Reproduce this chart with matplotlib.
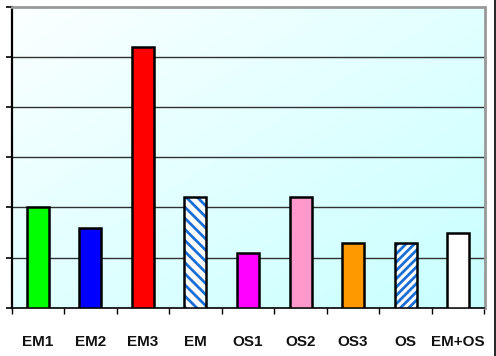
import matplotlib
matplotlib.use("Agg")
import matplotlib.pyplot as plt
import numpy as np
from matplotlib.colors import LinearSegmentedColormap
from matplotlib.lines import Line2D

categories = ["EM1", "EM2", "EM3", "EM", "OS1", "OS2", "OS3", "OS", "EM+OS"]
values = [2.0, 1.6, 5.2, 2.2, 1.1, 2.2, 1.3, 1.3, 1.5]
fill_colors = ["#00ff00", "#0000ff", "#ff0000", "#ffffff", "#ff00ff",
               "#ff99cc", "#ff9900", "#ffffff", "#ffffff"]
hatches = [None, None, None, "\\\\\\", None, None, None, "////", None]

plt.rcParams["hatch.linewidth"] = 2.0
hatch_blue = "#1a6fd6"

fig = plt.figure(figsize=(4.96, 3.56), dpi=100)
fig.patch.set_facecolor("white")
ax = fig.add_axes([11.5 / 496, 1 - 307.7 / 356, 473 / 496, 300.7 / 356])

n = len(categories)
ax.set_xlim(0, n)
ax.set_ylim(0, 6)

# diagonal gradient background: white at top-left to pale cyan at bottom-right
gx, gy = np.meshgrid(np.linspace(0, 1, 200), np.linspace(0, 1, 200))
grad = (gx + gy) / 2
cmap = LinearSegmentedColormap.from_list("bg", ["#fbffff", "#c8ffff"])
ax.imshow(grad, extent=[0, n, 0, 6], origin="upper", cmap=cmap,
          aspect="auto", zorder=0)

for y in range(1, 6):
    ax.axhline(y, color="#303030", lw=1.0, zorder=1)

x = np.arange(n) + 0.5
for xi, v, c, h in zip(x, values, fill_colors, hatches):
    if h:
        # hatch drawn in blue, outline drawn separately in black
        ax.bar(xi, v, width=0.42, color=c, edgecolor=hatch_blue, linewidth=0,
               hatch=h, zorder=3)
        ax.bar(xi, v, width=0.42, fill=False, edgecolor="black",
               linewidth=1.8, zorder=4)
    else:
        ax.bar(xi, v, width=0.42, color=c, edgecolor="black", linewidth=1.8,
               zorder=3)

ax.set_xticks(np.arange(n + 1))
ax.set_xticklabels([])
ax.set_xticks(x, minor=True)
ax.set_xticklabels(categories, minor=True, fontsize=11, fontweight="bold",
                   family=["Liberation Sans", "DejaVu Sans"], color="#111111")
ax.tick_params(axis="x", which="major", direction="out", length=4, width=1,
               color="black")
ax.tick_params(axis="x", which="minor", length=0, pad=20)

ax.set_yticks(range(0, 7))
ax.set_yticklabels([])
ax.tick_params(axis="y", direction="out", length=4, width=1.2, color="black")

ax.spines["left"].set_color("black")
ax.spines["left"].set_linewidth(1.6)
ax.spines["bottom"].set_color("black")
ax.spines["bottom"].set_linewidth(1.2)
ax.spines["top"].set_color("#999999")
ax.spines["top"].set_linewidth(2.0)
ax.spines["right"].set_color("#999999")
ax.spines["right"].set_linewidth(2.0)

fig.add_artist(Line2D([494.5 / 496, 494.5 / 496], [0, 1],
                      transform=fig.transFigure, color="black", lw=1.2))

fig.savefig("out.png", dpi=100)
